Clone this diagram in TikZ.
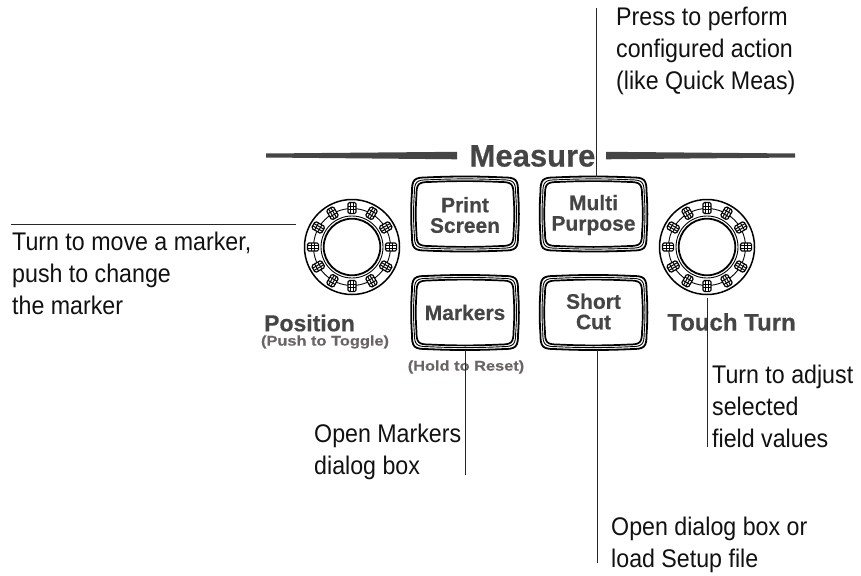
\documentclass[tikz,border=0pt]{standalone}
\usepackage{fontspec}
\setmainfont{Liberation Sans}
\newfontfamily\narrowf[FakeStretch=0.91]{Liberation Sans}
\newfontfamily\heavyf[FakeBold=0.5,FakeStretch=1.0]{Liberation Sans Bold}
\newfontfamily\widef[FakeBold=0.3,FakeStretch=1.17]{Liberation Sans Bold}
\usetikzlibrary{calc}
\definecolor{ink}{HTML}{111111}
\definecolor{head}{HTML}{454545}
\definecolor{sub}{HTML}{6A6464}
\tikzset{
  x=1pt,y=-1pt,
  lbl/.style={anchor=west,inner sep=0pt,align=left,font=\narrowf\fontsize{25.5}{32}\selectfont,text=ink},
  btn/.style={inner sep=0pt,minimum width=108pt,minimum height=74pt,align=center,font=\heavyf\fontsize{21}{20.5}\selectfont,text=head},
  ttl/.style={inner sep=0pt,font=\heavyf\fontsize{23}{23}\selectfont,text=head},
  subt/.style={inner sep=0pt,font=\widef\fontsize{14}{14}\selectfont,text=sub},
  lead/.style={draw=black!85,line width=0.7pt},
  ring/.style={draw=black,line width=1pt,fill=none},
  bar/.style={fill=head,draw=none}
}
\newcommand{\pad}[4]{% cx cy inset width
  \pgfmathsetmacro{\hw}{54-#3}\pgfmathsetmacro{\hh}{37.5-#3}\pgfmathsetmacro{\cc}{16-0.6*#3}
  \pgfmathsetmacro{\bw}{\hw-\cc}\pgfmathsetmacro{\bh}{\hh-\cc}
  \draw[black,line width=#4]
    ($(#1,#2)+(-\bw,-\hh)$)
    .. controls ($(#1,#2)+(-\bw*0.3,-\hh-1.2)$) and ($(#1,#2)+(\bw*0.3,-\hh-1.2)$) .. ($(#1,#2)+(\bw,-\hh)$)
    .. controls ($(#1,#2)+(\hw-2,-\hh)$) and ($(#1,#2)+(\hw,-\hh+2)$) .. ($(#1,#2)+(\hw,-\bh)$)
    .. controls ($(#1,#2)+(\hw+1,-\bh*0.3)$) and ($(#1,#2)+(\hw+1,\bh*0.3)$) .. ($(#1,#2)+(\hw,\bh)$)
    .. controls ($(#1,#2)+(\hw,\hh-2)$) and ($(#1,#2)+(\hw-2,\hh)$) .. ($(#1,#2)+(\bw,\hh)$)
    .. controls ($(#1,#2)+(\bw*0.3,\hh+1.2)$) and ($(#1,#2)+(-\bw*0.3,\hh+1.2)$) .. ($(#1,#2)+(-\bw,\hh)$)
    .. controls ($(#1,#2)+(-\hw+2,\hh)$) and ($(#1,#2)+(-\hw,\hh-2)$) .. ($(#1,#2)+(-\hw,\bh)$)
    .. controls ($(#1,#2)+(-\hw-1,\bh*0.3)$) and ($(#1,#2)+(-\hw-1,-\bh*0.3)$) .. ($(#1,#2)+(-\hw,-\bh)$)
    .. controls ($(#1,#2)+(-\hw,-\hh+2)$) and ($(#1,#2)+(-\hw+2,-\hh)$) .. cycle;
}
\newcommand{\keycap}[2]{\pad{#1}{#2}{0.9}{1.8pt}\pad{#1}{#2}{3.3}{0.9pt}\pad{#1}{#2}{5.5}{1.7pt}}
\newcommand{\knob}[2]{%
  \begin{scope}[shift={(#1,#2)}]
    \draw[ring,line width=1.5pt] (0,0) circle[radius=47.5];
    \draw[ring,line width=0.9pt] (0,0) circle[radius=38.5];
    \draw[ring,line width=0.9pt] (0,0) circle[radius=31];
    \draw[ring,line width=1.8pt] (0,0) circle[radius=28.3];
    \foreach \a in {0,30,...,330}{
      \begin{scope}[rotate=\a,shift={(0,-39)}]
        \draw[fill=white,draw=black,line width=1.2pt,rounded corners=1.5pt] (-4,-5.6) rectangle (4,5.6);
        \draw[black,line width=1pt] (-1.3,-5.6) -- (-1.3,5.6) (1.3,-5.6) -- (1.3,5.6);
        \draw[black,line width=0.9pt] (-4,-1.9) -- (4,-1.9) (-4,1.9) -- (4,1.9);
      \end{scope}
    }
  \end{scope}
}
\begin{document}
\begin{tikzpicture}
\useasboundingbox (0,0) rectangle (861,575);
% bars
\fill[bar] (266,153.5) -- (457,151.8) -- (457,159.3) -- (266,157.5) -- cycle;
\fill[bar] (606,151.8) -- (795,153.5) -- (795,157.5) -- (606,159.3) -- cycle;
\node[ttl,font=\heavyf\fontsize{31}{31}\selectfont] (measure) at (532.5,156) {Measure};
% keys
\keycap{465}{214}\keycap{593.5}{214}\keycap{465}{312.5}\keycap{593.5}{312.5}
\node[btn] (print) at (465,215) {Print\\Screen};
\node[btn] (multi) at (593.5,215) {Multi\\Purpose};
\node[btn] (markers) at (465,312.5) {Markers};
\node[btn] (short) at (593.5,311.5) {Short\\Cut};
% knobs
\knob{352}{247}\knob{707}{247}
\coordinate (posk) at (296,224);
\coordinate (touchk) at (707,298);
\node[ttl] (position) at (309.5,323) {Position};
\node[subt] (push) at (325,342) {(Push to Toggle)};
\node[ttl,font=\heavyf\fontsize{24}{24}\selectfont] (touch) at (731.5,322) {Touch Turn};
\node[subt] (hold) at (466,367) {(Hold to Reset)};
% labels
\node[lbl] (press) at (616,51) {Press to perform\\configured action\\(like Quick Meas)};
\node[lbl] (turnm) at (12,273) {Turn to move a marker,\\push to change\\the marker};
\node[lbl] (openm) at (314,452) {Open Markers\\dialog box};
\node[lbl] (turna) at (712,406) {Turn to adjust\\selected\\field values};
\node[lbl] (opend) at (611,545) {Open dialog box or\\load Setup file};
% leaders
\coordinate (e1) at (596,8);
\coordinate (e1b) at (596,177);
\coordinate (e2) at (11,224);
\coordinate (e3) at (465,475);
\coordinate (e3b) at (465,350);
\coordinate (e4) at (597,563);
\coordinate (e4b) at (597,350);
\coordinate (e5) at (707,447);
\draw[lead] (e1) -- (e1b);
\draw[lead] (e2) -- (posk);
\draw[lead] (e3b) -- (e3);
\draw[lead] (e4b) -- (e4);
\draw[lead] (touchk) -- (e5);
\end{tikzpicture}
\end{document}
